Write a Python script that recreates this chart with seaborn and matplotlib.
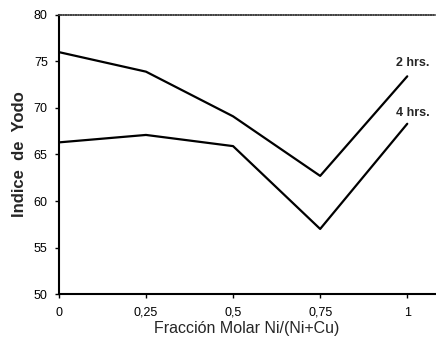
import pandas as pd
import seaborn as sns
import matplotlib.pyplot as plt

fraccion = [0, 0.25, 0.5, 0.75, 1]
yodo_2h = [76.0, 73.9, 69.1, 62.7, 73.4]
yodo_4h = [66.3, 67.1, 65.9, 57.0, 68.3]
series = ["2 hrs.", "4 hrs."]
xticks = [0, 0.25, 0.5, 0.75, 1]
xticklabels = ["0", "0,25", "0,5", "0,75", "1"]
yticks = [50, 55, 60, 65, 70, 75, 80]

df = pd.DataFrame({
    "x": fraccion * 2,
    "y": yodo_2h + yodo_4h,
    "serie": [series[0]] * 5 + [series[1]] * 5,
})

sns.set_style("white")
plt.rcParams["font.family"] = ["Liberation Sans", "DejaVu Sans"]

fig = plt.figure(figsize=(4.36, 3.46), dpi=100)
ax = fig.add_axes([0.135, 0.150, 0.863, 0.807])
sns.lineplot(data=df, x="x", y="y", hue="serie", palette=["black", "black"],
             linewidth=1.6, legend=False, ax=ax)

ax.set_xlim(0, 1.08)
ax.set_ylim(50, 80)
ax.set_xticks(xticks)
ax.set_xticklabels(xticklabels)
ax.set_yticks(yticks)
ax.tick_params(axis="both", labelsize=9, length=3, width=1, direction="out",
               bottom=True, left=True, colors="black")
ax.tick_params(axis="x", pad=6)
ax.tick_params(axis="y", pad=5)
ax.set_xlabel("Fracción Molar Ni/(Ni+Cu)", fontsize=11.5, labelpad=2)
ax.set_ylabel("Indice  de  Yodo", fontsize=12, fontweight="bold", labelpad=5)

for side in ["left", "bottom"]:
    ax.spines[side].set_color("black")
    ax.spines[side].set_linewidth(1.5)
ax.spines["top"].set_color("#444444")
ax.spines["top"].set_linewidth(1.2)
ax.spines["top"].set_linestyle((0, (1, 0.5)))
ax.spines["right"].set_visible(False)

ax.text(0.968, 74.8, series[0], fontsize=9, fontweight="bold",
        family=["Liberation Sans Narrow", "Liberation Sans"], va="center")
ax.text(0.968, 69.5, series[1], fontsize=9, fontweight="bold",
        family=["Liberation Sans Narrow", "Liberation Sans"], va="center")

fig.savefig("out.png", dpi=100)
